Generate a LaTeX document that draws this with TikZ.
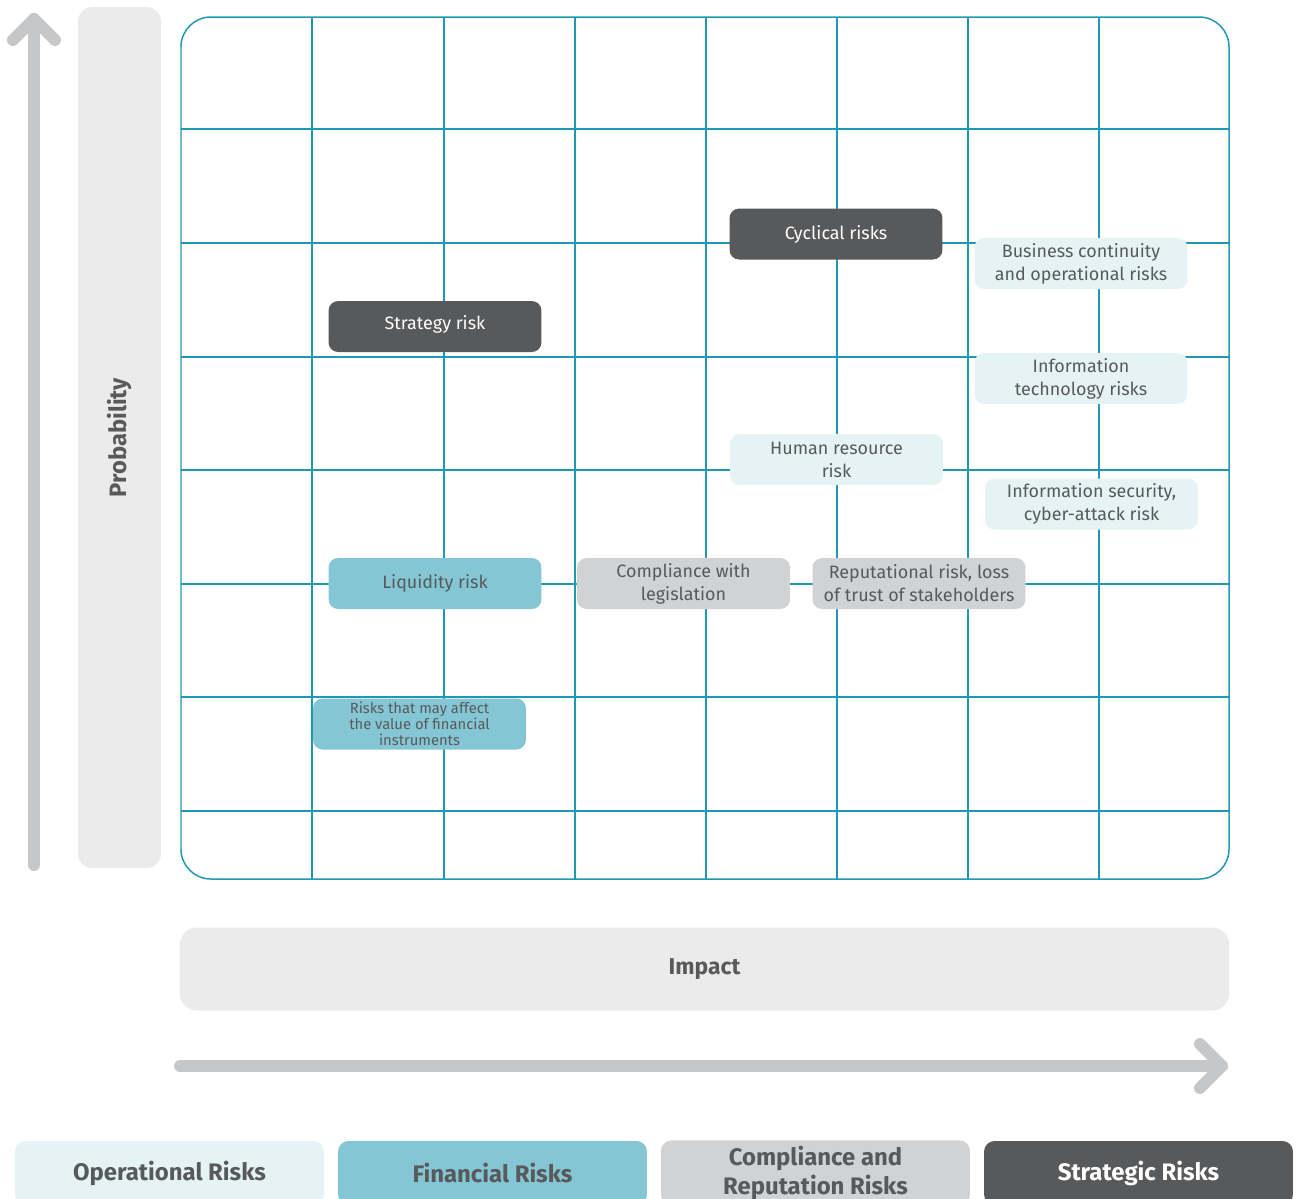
\documentclass[tikz,border=0pt]{standalone}
\usepackage{fontspec}
\setmainfont{Fira Sans}
\definecolor{gridteal}{RGB}{32,152,180}
\definecolor{darkrisk}{RGB}{88,89,91}
\definecolor{oprisk}{RGB}{230,243,245}
\definecolor{finrisk}{RGB}{132,198,212}
\definecolor{comprisk}{RGB}{209,210,212}
\definecolor{bandgray}{RGB}{235,235,235}
\definecolor{arrowgray}{RGB}{198,199,201}
\definecolor{textgray}{RGB}{88,89,91}
\begin{document}
\begin{tikzpicture}[x=0.02cm,y=-0.02cm,
  riskbox/.style={rounded corners=5.5pt,minimum width=4.26cm,minimum height=1.02cm,
    inner sep=1pt,align=center,text=textgray,font=\fontsize{10.2}{13}\selectfont},
  legendbox/.style={rounded corners=6pt,minimum width=6.18cm,minimum height=1.28cm,
    align=center,text=textgray,font=\fontsize{13.6}{16.4}\selectfont\bfseries},
  axisarrow/.style={draw=arrowgray,line width=6.8pt,line cap=round,line join=round}]
\useasboundingbox (0,0) rectangle (1298,1198);

% axes
\node [fill=bandgray,rounded corners=8pt,minimum width=1.66cm,minimum height=17.22cm,
  text=textgray,font=\fontsize{13.5}{16}\selectfont\bfseries] (probability) at (119.5,437.5)
  {\rotatebox{90}{Probability}};
\node [fill=bandgray,rounded corners=10pt,minimum width=21cm,minimum height=1.66cm,
  text=textgray,font=\fontsize{13}{15}\selectfont\bfseries] (impact) at (704.5,969)
  {\raisebox{-1.5pt}{Impact}};

\coordinate (ptail) at (34,865);
\coordinate (ptip) at (34,19);
\draw [axisarrow] (ptail) -- (ptip);
\draw [axisarrow] (13,40) -- (ptip) -- (55,40);
\coordinate (itail) at (180,1066);
\coordinate (itip) at (1222,1066);
\draw [axisarrow] (itail) -- (itip);
\draw [axisarrow] (1200,1044) -- (itip) -- (1200,1088);

% grid
\foreach \gx in {312,444,575,706,837,968,1099}
  \draw [gridteal,line width=0.85pt] (\gx,17) -- (\gx,879);
\foreach \gy in {129,243,357,470,584,697,811}
  \draw [gridteal,line width=0.85pt] (181,\gy) -- (1229,\gy);
\draw [gridteal,line width=0.85pt,rounded corners=17pt] (181,17) rectangle (1229,879);

% risks
\node [riskbox,fill=darkrisk,text=white] (cyclical) at (836,234) {Cyclical risks};
\node [riskbox,fill=darkrisk,text=white] (strategy) at (435,326.5) {\raisebox{4pt}{Strategy risk}};
\node [riskbox,fill=oprisk] (continuity) at (1081,263.5) {Business continuity\\and operational risks};
\node [riskbox,fill=oprisk] (infotech) at (1081,378.5) {Information\\technology risks};
\node [riskbox,fill=oprisk] (humanres) at (836.5,459.5) {Human resource\\risk};
\node [riskbox,fill=oprisk] (infosec) at (1091.5,504) {Information security,\\cyber-attack risk};
\node [riskbox,fill=finrisk] (liquidity) at (435,583.5) {\raisebox{-1.5pt}{Liquidity risk}};
\node [riskbox,fill=comprisk] (compliance) at (683.5,583.5) {Compliance with\\legislation};
\node [riskbox,fill=comprisk] (reputation) at (919,583.5) {Reputational risk, loss\\of trust of stakeholders};
\node [riskbox,fill=finrisk,font=\fontsize{8.4}{9}\selectfont] (instruments) at (419.5,724)
  {Risks that may affect\\the value of financial\\instruments};

% legend
\node [legendbox,fill=oprisk] (operational) at (169.5,1173) {Operational Risks};
\node [legendbox,fill=finrisk] (financial) at (492.5,1173) {Financial Risks};
\node [legendbox,fill=comprisk] (compreput) at (815.5,1173) {Compliance and\\Reputation Risks};
\node [legendbox,fill=darkrisk,text=white] (strategic) at (1138.5,1173) {Strategic Risks};
\end{tikzpicture}
\end{document}
